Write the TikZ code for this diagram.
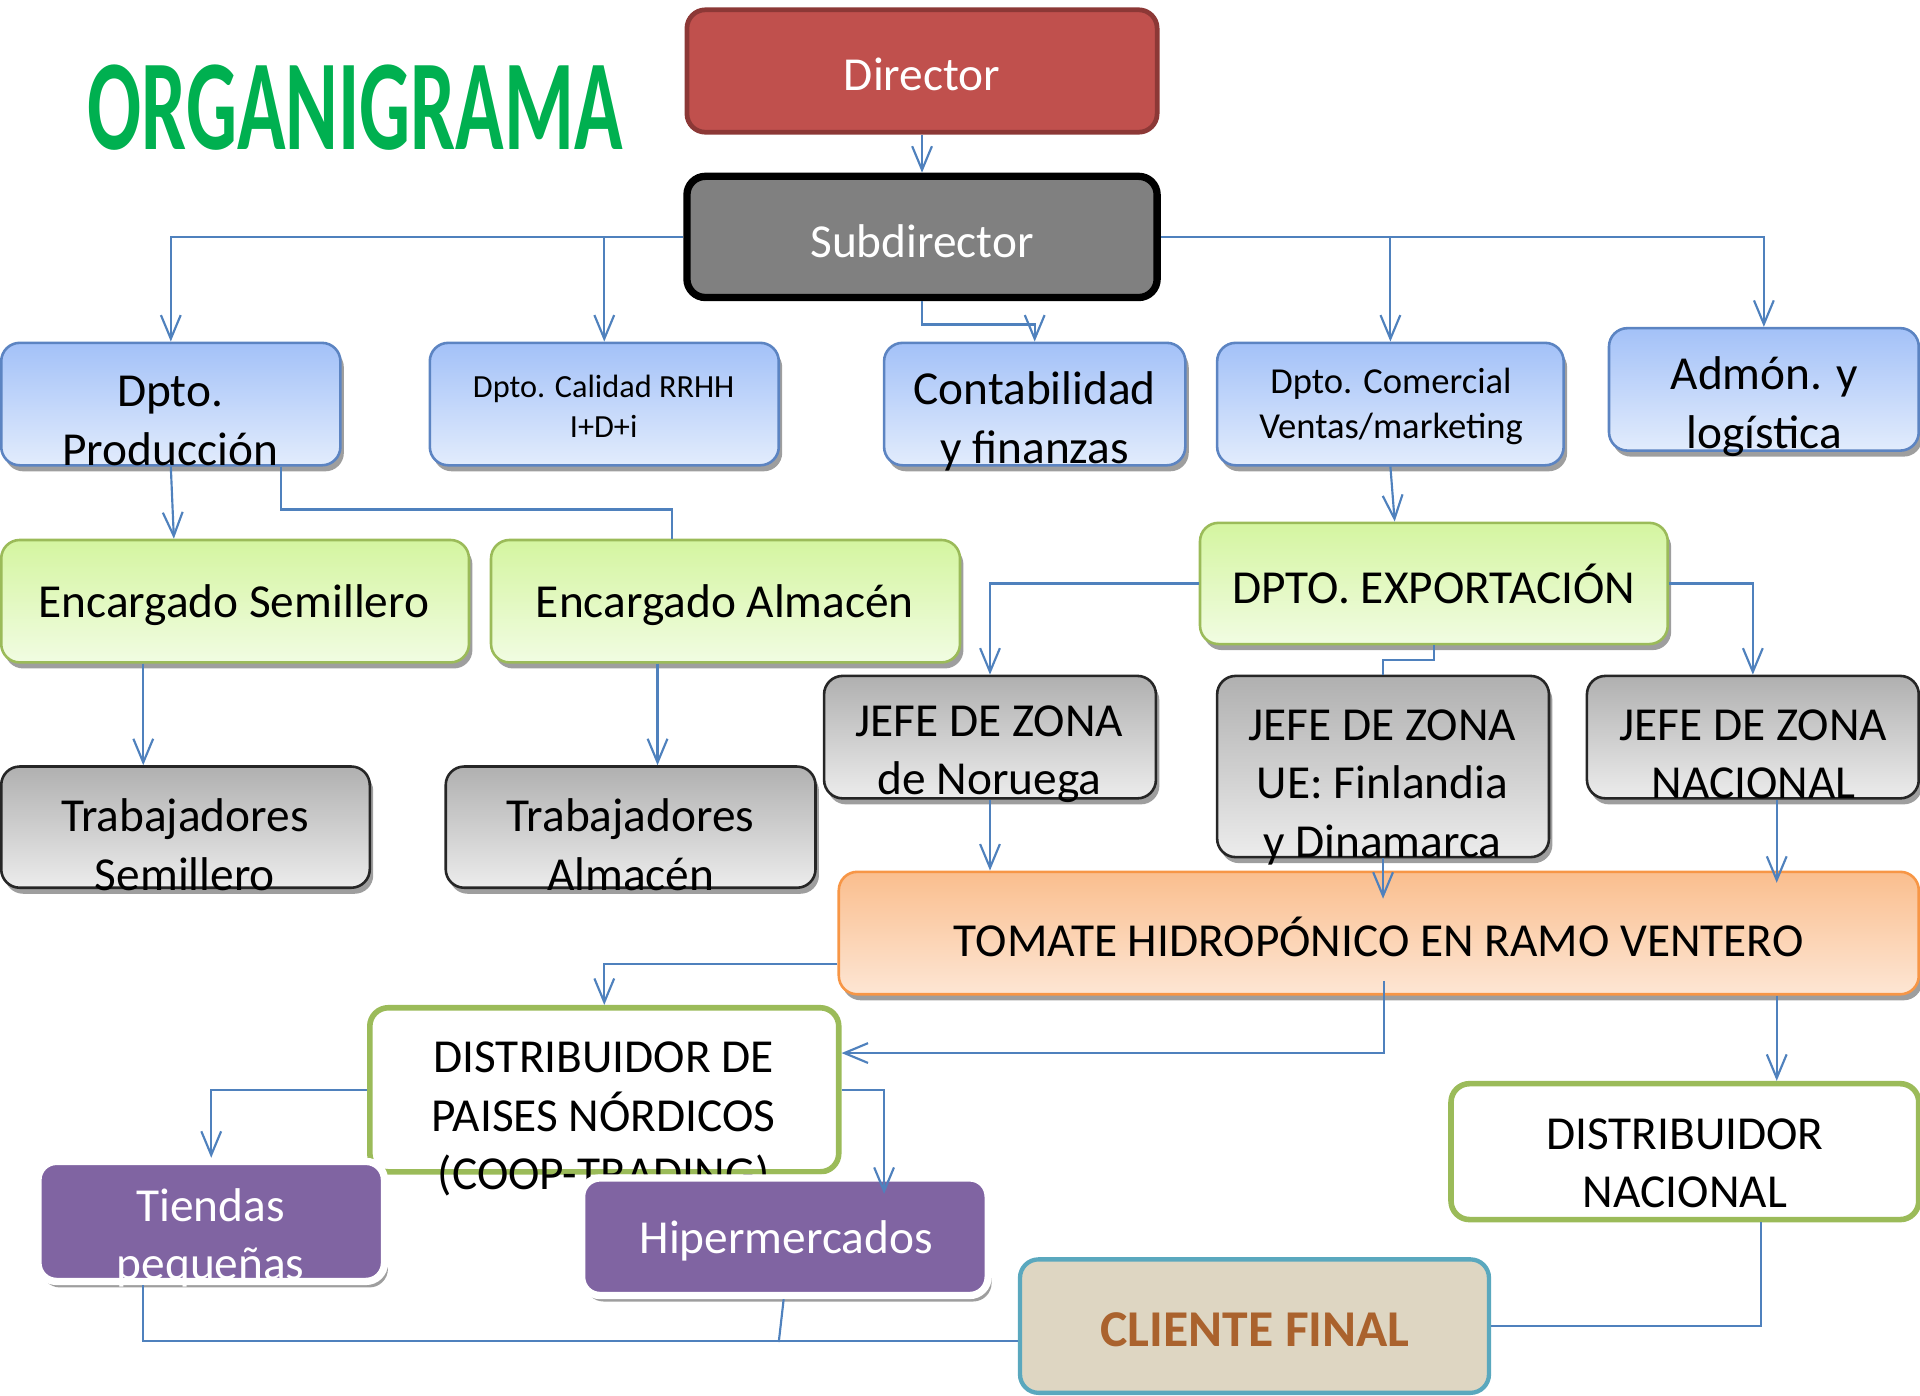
\documentclass[tikz,border=0pt]{standalone}
\usepackage{fontspec}
\setmainfont{Carlito}
\usepackage{graphicx}
\usetikzlibrary{arrows.meta,calc,shadows}

\definecolor{lineBlue}{RGB}{79,129,189}
\definecolor{dirRed}{RGB}{192,80,77}
\definecolor{dirRedDark}{RGB}{140,56,54}
\definecolor{subGray}{RGB}{128,128,128}
\definecolor{blueTop}{RGB}{163,193,248}
\definecolor{blueBot}{RGB}{226,236,252}
\definecolor{blueLine}{RGB}{92,132,194}
\definecolor{greenTop}{RGB}{212,245,160}
\definecolor{greenBot}{RGB}{241,252,226}
\definecolor{greenLine}{RGB}{155,187,89}
\definecolor{grayTop}{RGB}{176,176,176}
\definecolor{grayBot}{RGB}{236,236,236}
\definecolor{orangeTop}{RGB}{250,190,142}
\definecolor{orangeBot}{RGB}{253,230,212}
\definecolor{orangeLine}{RGB}{247,150,70}
\definecolor{shopPurple}{RGB}{128,100,162}
\definecolor{clientBeige}{RGB}{222,214,194}
\definecolor{clientLine}{RGB}{90,168,190}
\definecolor{clientText}{RGB}{170,98,45}
\definecolor{titleGreen}{RGB}{0,176,80}

\begin{document}
\begin{tikzpicture}[x=0.1mm,y=-0.1mm]

          \tikzstyle{roundBox} = [rectangle, rounded corners=4.3pt, inner sep=0pt];
          \tikzstyle{boxShadow} = [drop shadow={shadow xshift=0.8pt,shadow yshift=-1.4pt,fill=black!38,opacity=1}];
          \tikzstyle{redBox} = [roundBox, fill=dirRed, draw=dirRedDark, line width=1.1pt];
          \tikzstyle{darkBox} = [roundBox, fill=subGray, draw=black, line width=1.7pt];
          \tikzstyle{blueBox} = [roundBox, boxShadow, top color=blueTop, bottom color=blueBot, draw=blueLine, line width=0.6pt];
          \tikzstyle{greenBox} = [roundBox, boxShadow, top color=greenTop, bottom color=greenBot, draw=greenLine, line width=0.6pt];
          \tikzstyle{grayBox} = [roundBox, boxShadow, top color=grayTop, bottom color=grayBot, draw=black!85, line width=0.6pt];
          \tikzstyle{orangeBox} = [roundBox, boxShadow, top color=orangeTop, bottom color=orangeBot, draw=orangeLine, line width=0.6pt];
          \tikzstyle{distBox} = [roundBox, fill=white, draw=greenLine, line width=1.3pt];
          \tikzstyle{shopBox} = [roundBox, boxShadow, fill=shopPurple, draw=white, line width=1.7pt];
          \tikzstyle{clientBox} = [roundBox, fill=clientBeige, draw=clientLine, line width=1pt];
          \tikzstyle{lbl} = [align=center, inner sep=0pt, font=\fontsize{11}{13.6}\selectfont];
          \tikzstyle{lblWhite} = [lbl, text=white];
          \tikzstyle{lblSmall} = [align=center, inner sep=0pt, font=\fontsize{7.5}{9.2}\selectfont];
          \tikzstyle{link} = [draw=lineBlue, line width=0.5pt];
          \tikzstyle{arr} = [link, -{Straight Barb[length=5.5pt,width=4.6pt]}];

          \useasboundingbox (0,0) rectangle (1568,1140);

          \node[text=titleGreen, inner sep=0pt, font=\fontsize{30}{30}\bfseries\selectfont] (title) at (290,88) {\scalebox{0.62}[1]{ORGANIGRAMA}};

          % direccion
          \node[redBox, minimum width=38.4mm, minimum height=10mm] (dir) at (753,58) {};
          \node[lblWhite] (dirText) at (753,61) {Director};
          \node[darkBox, minimum width=38.4mm, minimum height=9.9mm] (sub) at (753,193.5) {};
          \node[lblWhite] (subText) at (753,197) {Subdirector};

          % departamentos
          \node[blueBox, minimum width=27.7mm, minimum height=10mm] (prod) at (139.5,330) {};
          \node[lbl] (prodText) at (139,344) {Dpto.\\Producción};
          \node[blueBox, minimum width=28.5mm, minimum height=10mm] (cal) at (493.5,330) {};
          \node[lblSmall] (calText) at (493,332) {Dpto. Calidad RRHH\\I+D+i};
          \node[blueBox, minimum width=24.6mm, minimum height=10mm] (cont) at (845,330) {};
          \node[lbl] (contText) at (845,344) {Contabilidad\\y finanzas};
          \node[blueBox, minimum width=28.3mm, minimum height=10mm] (com) at (1135.5,330) {};
          \node[lblSmall, font=\fontsize{8.5}{10.3}\selectfont] (comText) at (1136,332) {Dpto. Comercial\\Ventas/marketing};
          \node[blueBox, minimum width=25.3mm, minimum height=10mm] (adm) at (1440.5,318) {};
          \node[lbl] (admText) at (1441,332) {Admón. y\\logística};

          % encargados
          \node[greenBox, minimum width=38.2mm, minimum height=10mm] (encS) at (192,491) {};
          \node[lbl] (encSText) at (191,494) {Encargado Semillero};
          \node[greenBox, minimum width=38.3mm, minimum height=10mm] (encA) at (592.5,491) {};
          \node[lbl] (encAText) at (592,494) {Encargado Almacén};
          \node[greenBox, minimum width=38.2mm, minimum height=9.9mm] (exp) at (1171,476.5) {};
          \node[lbl] (expText) at (1171,477) {DPTO. EXPORTACIÓN};

          % trabajadores y jefes de zona
          \node[grayBox, minimum width=30.1mm, minimum height=9.9mm] (trS) at (151.5,675.5) {};
          \node[lbl] (trSText) at (151,690) {Trabajadores\\Semillero};
          \node[grayBox, minimum width=30.2mm, minimum height=9.9mm] (trA) at (515,675.5) {};
          \node[lbl] (trAText) at (515,690) {Trabajadores\\Almacén};
          \node[grayBox, minimum width=27.1mm, minimum height=10mm] (nor) at (808.5,602) {};
          \node[lbl] (norText) at (808,616) {JEFE DE ZONA\\de Noruega};
          \node[grayBox, minimum width=27.1mm, minimum height=14.8mm] (ue) at (1129.5,626) {};
          \node[lbl] (ueText) at (1129,643) {JEFE DE ZONA\\UE: Finlandia\\y Dinamarca};
          \node[grayBox, minimum width=27.1mm, minimum height=10mm] (nac) at (1431.5,602) {};
          \node[lbl] (nacText) at (1432,616) {JEFE DE ZONA\\NACIONAL};

          % producto y distribucion
          \node[orangeBox, minimum width=88.2mm, minimum height=10mm] (tom) at (1126,762) {};
          \node[lbl] (tomText) at (1126,765) {TOMATE HIDROPÓNICO EN RAMO VENTERO};
          \node[distBox, minimum width=38.3mm, minimum height=13.4mm] (dnor) at (493.5,890) {};
          \node[lbl] (dnorText) at (493,914) {DISTRIBUIDOR DE\\PAISES NÓRDICOS\\(COOP-TRADING)};
          \node[distBox, minimum width=38.2mm, minimum height=11.1mm] (dnac) at (1376,940.5) {};
          \node[lbl] (dnacText) at (1376,950) {DISTRIBUIDOR\\NACIONAL};
          \node[shopBox, minimum width=28.3mm, minimum height=9.8mm] (tie) at (172.5,997.5) {};
          \node[lblWhite] (tieText) at (172,1011) {Tiendas\\pequeñas};
          \node[shopBox, minimum width=33.2mm, minimum height=9.6mm] (hip) at (641,1010) {};
          \node[lblWhite] (hipText) at (642,1013) {Hipermercados};
          \node[clientBox, minimum width=38.3mm, minimum height=10.9mm] (cli) at (1024.5,1083) {};
          \node[text=clientText, inner sep=0pt, font=\fontsize{12}{14}\bfseries\selectfont] (cliText) at (1025,1086) {CLIENTE FINAL};

          % conexiones
          \draw[arr] (dir) -- (sub);
          \draw[arr] (sub.west) -| (prod.north);
          \draw[arr] (sub.west) -| (cal.north);
          \draw[arr] (sub.south) -- ++(0,19) -| (cont.north);
          \draw[arr] (sub.east) -| (com.north);
          \draw[arr] (sub.east) -| (adm.north);
          \draw[arr] (prod.south) -- ($(encS.north)+(-50,0)$);
          \draw[link] ($(prod.south)+(90,0)$) -- ++(0,35) -| ($(encA.north)+(-43.5,0)$);
          \draw[arr] (com.south) -- ($(exp.north)+(-32,0)$);
          \draw[arr] ($(encS.south)+(-75,0)$) -- ($(trS.north)+(-34.5,0)$);
          \draw[arr] ($(encA.south)+(-55.5,0)$) -- ($(trA.north)+(22,0)$);
          \draw[arr] (exp.west) -| (nor.north);
          \draw[link] (exp.south) -- ++(0,12) -| (ue.north);
          \draw[arr] (exp.east) -| (nac.north);
          \draw[arr] (nor.south) -- (nor.south |- tom.north);
          \draw[arr] (ue.south) -- ($(ue.south |- tom.north)+(0,23)$);
          \draw[arr] ($(nac.south)+(19.5,0)$) -- ($(nac.south |- tom.north)+(19.5,10)$);
          \draw[arr] ($(tom.west)+(0,25)$) -| (dnor.north);
          \draw[arr] ($(tom.south)+(4,-12)$) |- ($(dnor.east)+(0,-30)$);
          \draw[arr] ($(tom.south)+(325,0)$) -- ($(dnac.north)+(75,0)$);
          \draw[arr] (dnor.west) -| (tie.north);
          \draw[arr] (dnor.east) -| ($(hip.north)+(81,16)$);
          \coordinate (hipJoin) at (636,1096);
          \draw[link] ($(tie.south)+(-55.5,0)$) |- ($(cli.west)+(0,12)$);
          \draw[link] ($(hip.south)+(-1,0)$) -- (hipJoin);
          \draw[link] ($(dnac.south)+(62,0)$) |- (cli.east);
        \end{tikzpicture}
\end{document}
